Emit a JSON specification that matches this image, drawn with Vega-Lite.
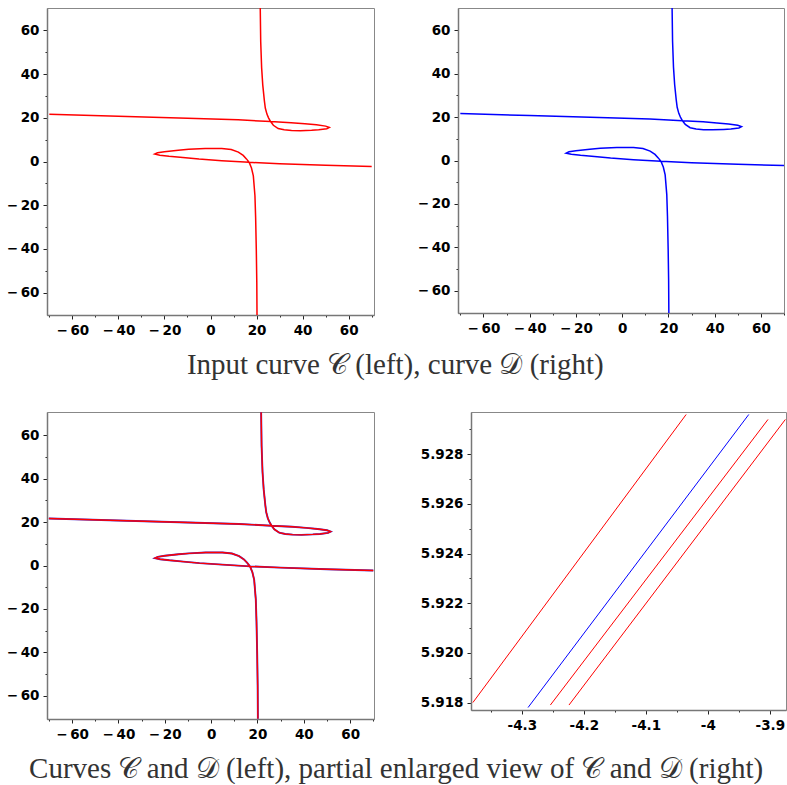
{
  "$schema": "https://vega.github.io/schema/vega-lite/v6.json",
  "background": "white",
  "padding": {"top": 7, "left": 5, "right": 0, "bottom": 0},
  "spacing": 31,
  "config": {
    "view": {"stroke": "#888", "strokeWidth": 1},
    "axis": {"domainColor": "#777", "domainWidth": 1.5, "tickColor": "#222", "labelFont": "DejaVu Sans", "labelFontWeight": "bold", "labelFontSize": 13.5, "labelColor": "#000", "grid": false, "labelPadding": 4, "title": null, "labelFlush": false, "labelOverlap": false},
    "title": {"font": "Liberation Serif", "fontSize": 29, "fontWeight": "normal", "color": "#333"}
  },
  "datasets": {
    "curveC": [
      {"branch": "upper", "i": 1, "x": -70, "y": 21.6},
      {"branch": "upper", "i": 2, "x": -40, "y": 20.7},
      {"branch": "upper", "i": 3, "x": -10, "y": 19.8},
      {"branch": "upper", "i": 4, "x": 12, "y": 19.1},
      {"branch": "upper", "i": 5, "x": 26.1, "y": 18.3},
      {"branch": "upper", "i": 6, "x": 35, "y": 17.8},
      {"branch": "upper", "i": 7, "x": 41, "y": 17.3},
      {"branch": "upper", "i": 8, "x": 46, "y": 16.8},
      {"branch": "upper", "i": 9, "x": 50, "y": 16.2},
      {"branch": "upper", "i": 10, "x": 51.6, "y": 15.6},
      {"branch": "upper", "i": 11, "x": 50.5, "y": 15.0},
      {"branch": "upper", "i": 12, "x": 47, "y": 14.5},
      {"branch": "upper", "i": 13, "x": 43.9, "y": 14.3},
      {"branch": "upper", "i": 14, "x": 39, "y": 14.1},
      {"branch": "upper", "i": 15, "x": 35.2, "y": 14.2},
      {"branch": "upper", "i": 16, "x": 32, "y": 14.5},
      {"branch": "upper", "i": 17, "x": 29.4, "y": 15.1},
      {"branch": "upper", "i": 18, "x": 27.3, "y": 16.6},
      {"branch": "upper", "i": 19, "x": 26.1, "y": 18.3},
      {"branch": "upper", "i": 20, "x": 25.2, "y": 20.0},
      {"branch": "upper", "i": 21, "x": 24.5, "y": 21.7},
      {"branch": "upper", "i": 22, "x": 23.8, "y": 24.5},
      {"branch": "upper", "i": 23, "x": 23.4, "y": 27.8},
      {"branch": "upper", "i": 24, "x": 22.7, "y": 35},
      {"branch": "upper", "i": 25, "x": 22.2, "y": 43},
      {"branch": "upper", "i": 26, "x": 21.8, "y": 55},
      {"branch": "upper", "i": 27, "x": 21.6, "y": 70.5},
      {"branch": "lower", "i": 1, "x": 70, "y": -2.3},
      {"branch": "lower", "i": 2, "x": 50, "y": -1.7},
      {"branch": "lower", "i": 3, "x": 30, "y": -1.0},
      {"branch": "lower", "i": 4, "x": 16.8, "y": -0.4},
      {"branch": "lower", "i": 5, "x": 4.9, "y": 0.4},
      {"branch": "lower", "i": 6, "x": -5, "y": 1.1},
      {"branch": "lower", "i": 7, "x": -12, "y": 1.8},
      {"branch": "lower", "i": 8, "x": -18, "y": 2.4},
      {"branch": "lower", "i": 9, "x": -22, "y": 2.9},
      {"branch": "lower", "i": 10, "x": -24.2, "y": 3.4},
      {"branch": "lower", "i": 11, "x": -23, "y": 4.0},
      {"branch": "lower", "i": 12, "x": -20, "y": 4.5},
      {"branch": "lower", "i": 13, "x": -14, "y": 5.2},
      {"branch": "lower", "i": 14, "x": -9.5, "y": 5.6},
      {"branch": "lower", "i": 15, "x": -2.3, "y": 6.0},
      {"branch": "lower", "i": 16, "x": 4.9, "y": 6.0},
      {"branch": "lower", "i": 17, "x": 9, "y": 5.5},
      {"branch": "lower", "i": 18, "x": 12.1, "y": 4.3},
      {"branch": "lower", "i": 19, "x": 14.2, "y": 2.8},
      {"branch": "lower", "i": 20, "x": 15.6, "y": 1.2},
      {"branch": "lower", "i": 21, "x": 16.8, "y": -0.4},
      {"branch": "lower", "i": 22, "x": 17.8, "y": -3},
      {"branch": "lower", "i": 23, "x": 18.6, "y": -6.6},
      {"branch": "lower", "i": 24, "x": 19.3, "y": -15.7},
      {"branch": "lower", "i": 25, "x": 19.6, "y": -25.7},
      {"branch": "lower", "i": 26, "x": 19.9, "y": -41},
      {"branch": "lower", "i": 27, "x": 20.1, "y": -55},
      {"branch": "lower", "i": 28, "x": 20.2, "y": -70.5}
    ],
    "curveD": [
      {"branch": "upper", "i": 1, "x": -70, "y": 21.6},
      {"branch": "upper", "i": 2, "x": -40, "y": 20.7},
      {"branch": "upper", "i": 3, "x": -10, "y": 19.8},
      {"branch": "upper", "i": 4, "x": 12, "y": 19.1},
      {"branch": "upper", "i": 5, "x": 26.1, "y": 18.3},
      {"branch": "upper", "i": 6, "x": 35, "y": 17.8},
      {"branch": "upper", "i": 7, "x": 41, "y": 17.3},
      {"branch": "upper", "i": 8, "x": 46, "y": 16.8},
      {"branch": "upper", "i": 9, "x": 50, "y": 16.2},
      {"branch": "upper", "i": 10, "x": 51.6, "y": 15.6},
      {"branch": "upper", "i": 11, "x": 50.5, "y": 15.0},
      {"branch": "upper", "i": 12, "x": 47, "y": 14.5},
      {"branch": "upper", "i": 13, "x": 43.9, "y": 14.3},
      {"branch": "upper", "i": 14, "x": 39, "y": 14.1},
      {"branch": "upper", "i": 15, "x": 35.2, "y": 14.2},
      {"branch": "upper", "i": 16, "x": 32, "y": 14.5},
      {"branch": "upper", "i": 17, "x": 29.4, "y": 15.1},
      {"branch": "upper", "i": 18, "x": 27.3, "y": 16.6},
      {"branch": "upper", "i": 19, "x": 26.1, "y": 18.3},
      {"branch": "upper", "i": 20, "x": 25.2, "y": 20.0},
      {"branch": "upper", "i": 21, "x": 24.5, "y": 21.7},
      {"branch": "upper", "i": 22, "x": 23.8, "y": 24.5},
      {"branch": "upper", "i": 23, "x": 23.4, "y": 27.8},
      {"branch": "upper", "i": 24, "x": 22.7, "y": 35},
      {"branch": "upper", "i": 25, "x": 22.2, "y": 43},
      {"branch": "upper", "i": 26, "x": 21.8, "y": 55},
      {"branch": "upper", "i": 27, "x": 21.6, "y": 70.5},
      {"branch": "lower", "i": 1, "x": 70, "y": -2.3},
      {"branch": "lower", "i": 2, "x": 50, "y": -1.7},
      {"branch": "lower", "i": 3, "x": 30, "y": -1.0},
      {"branch": "lower", "i": 4, "x": 16.8, "y": -0.4},
      {"branch": "lower", "i": 5, "x": 4.9, "y": 0.4},
      {"branch": "lower", "i": 6, "x": -5, "y": 1.1},
      {"branch": "lower", "i": 7, "x": -12, "y": 1.8},
      {"branch": "lower", "i": 8, "x": -18, "y": 2.4},
      {"branch": "lower", "i": 9, "x": -22, "y": 2.9},
      {"branch": "lower", "i": 10, "x": -24.2, "y": 3.4},
      {"branch": "lower", "i": 11, "x": -23, "y": 4.0},
      {"branch": "lower", "i": 12, "x": -20, "y": 4.5},
      {"branch": "lower", "i": 13, "x": -14, "y": 5.2},
      {"branch": "lower", "i": 14, "x": -9.5, "y": 5.6},
      {"branch": "lower", "i": 15, "x": -2.3, "y": 6.0},
      {"branch": "lower", "i": 16, "x": 4.9, "y": 6.0},
      {"branch": "lower", "i": 17, "x": 9, "y": 5.5},
      {"branch": "lower", "i": 18, "x": 12.1, "y": 4.3},
      {"branch": "lower", "i": 19, "x": 14.2, "y": 2.8},
      {"branch": "lower", "i": 20, "x": 15.6, "y": 1.2},
      {"branch": "lower", "i": 21, "x": 16.8, "y": -0.4},
      {"branch": "lower", "i": 22, "x": 17.8, "y": -3},
      {"branch": "lower", "i": 23, "x": 18.6, "y": -6.6},
      {"branch": "lower", "i": 24, "x": 19.3, "y": -15.7},
      {"branch": "lower", "i": 25, "x": 19.6, "y": -25.7},
      {"branch": "lower", "i": 26, "x": 19.9, "y": -41},
      {"branch": "lower", "i": 27, "x": 20.1, "y": -55},
      {"branch": "lower", "i": 28, "x": 20.2, "y": -70.5}
    ],
    "zoomed": [
      {"curve": "C", "line": "c1", "x": -4.379, "y": 5.918},
      {"curve": "C", "line": "c1", "x": -4.035, "y": 5.9296},
      {"curve": "D", "line": "d1", "x": -4.290, "y": 5.9178},
      {"curve": "D", "line": "d1", "x": -3.934, "y": 5.9296},
      {"curve": "C", "line": "c2", "x": -4.254, "y": 5.9179},
      {"curve": "C", "line": "c2", "x": -3.903, "y": 5.9294},
      {"curve": "C", "line": "c3", "x": -4.224, "y": 5.9179},
      {"curve": "C", "line": "c3", "x": -3.875, "y": 5.9294}
    ]
  },
  "vconcat": [
    {
      "spacing": 41,
      "title": {"text": "Input curve 𝒞 (left), curve 𝒟 (right)", "orient": "bottom", "anchor": "middle", "offset": 14},
      "hconcat": [
        {
          "width": 327, "height": 307,
          "data": {"name": "curveC"},
          "mark": {"type": "line", "color": "#ff0000", "strokeWidth": 1.5, "clip": true},
          "encoding": {
            "x": {"field": "x", "type": "quantitative", "scale": {"domain": [-71, 71], "nice": false, "zero": false},
              "axis": {"values": [-70, -60, -50, -40, -30, -20, -10, 0, 10, 20, 30, 40, 50, 60, 70], "labelExpr": "datum.value % 20 != 0 ? '' : (datum.value < 0 ? '−\u2009' + abs(datum.value) : '' + datum.value)", "tickSize": {"condition": {"test": "datum.value % 20 != 0", "value": 2}, "value": 4}}},
            "y": {"field": "y", "type": "quantitative", "scale": {"domain": [-70.3, 70.3], "nice": false, "zero": false},
              "axis": {"values": [-60, -50, -40, -30, -20, -10, 0, 10, 20, 30, 40, 50, 60], "labelExpr": "datum.value % 20 != 0 ? '' : (datum.value < 0 ? '−\u2009' + abs(datum.value) : '' + datum.value)", "tickSize": {"condition": {"test": "datum.value % 20 != 0", "value": 2}, "value": 4}}},
            "detail": {"field": "branch"},
            "order": {"field": "i"}
          }
        },
        {
          "width": 326, "height": 305,
          "data": {"name": "curveD"},
          "mark": {"type": "line", "color": "#0000ff", "strokeWidth": 1.5, "clip": true},
          "encoding": {
            "x": {"field": "x", "type": "quantitative", "scale": {"domain": [-71, 70], "nice": false, "zero": false},
              "axis": {"values": [-70, -60, -50, -40, -30, -20, -10, 0, 10, 20, 30, 40, 50, 60, 70], "labelExpr": "datum.value % 20 != 0 ? '' : (datum.value < 0 ? '−\u2009' + abs(datum.value) : '' + datum.value)", "tickSize": {"condition": {"test": "datum.value % 20 != 0", "value": 2}, "value": 4}}},
            "y": {"field": "y", "type": "quantitative", "scale": {"domain": [-70.2, 70.2], "nice": false, "zero": false},
              "axis": {"values": [-60, -50, -40, -30, -20, -10, 0, 10, 20, 30, 40, 50, 60], "labelExpr": "datum.value % 20 != 0 ? '' : (datum.value < 0 ? '−\u2009' + abs(datum.value) : '' + datum.value)", "tickSize": {"condition": {"test": "datum.value % 20 != 0", "value": 2}, "value": 4}}},
            "detail": {"field": "branch"},
            "order": {"field": "i"}
          }
        }
      ]
    },
    {
      "spacing": 44,
      "title": {"text": "Curves 𝒞 and 𝒟 (left), partial enlarged view of 𝒞 and 𝒟 (right)", "orient": "bottom", "anchor": "middle", "offset": 14},
      "hconcat": [
        {
          "width": 327, "height": 307,
          "encoding": {
            "x": {"field": "x", "type": "quantitative", "scale": {"domain": [-70.8, 70.3], "nice": false, "zero": false},
              "axis": {"values": [-70, -60, -50, -40, -30, -20, -10, 0, 10, 20, 30, 40, 50, 60, 70], "labelExpr": "datum.value % 20 != 0 ? '' : (datum.value < 0 ? '−\u2009' + abs(datum.value) : '' + datum.value)", "tickSize": {"condition": {"test": "datum.value % 20 != 0", "value": 2}, "value": 4}}},
            "y": {"field": "y", "type": "quantitative", "scale": {"domain": [-70.6, 70.6], "nice": false, "zero": false},
              "axis": {"values": [-60, -50, -40, -30, -20, -10, 0, 10, 20, 30, 40, 50, 60], "labelExpr": "datum.value % 20 != 0 ? '' : (datum.value < 0 ? '−\u2009' + abs(datum.value) : '' + datum.value)", "tickSize": {"condition": {"test": "datum.value % 20 != 0", "value": 2}, "value": 4}}},
            "detail": {"field": "branch"},
            "order": {"field": "i"}
          },
          "layer": [
            {"data": {"name": "curveD"}, "mark": {"type": "line", "color": "#3a2ad0", "strokeWidth": 1.9, "clip": true}},
            {"data": {"name": "curveC"}, "mark": {"type": "line", "color": "#ff0000", "strokeWidth": 1.4, "clip": true}}
          ]
        },
        {
          "width": 315, "height": 298,
          "data": {"name": "zoomed"},
          "mark": {"type": "line", "strokeWidth": 1, "clip": true},
          "encoding": {
            "x": {"field": "x", "type": "quantitative", "scale": {"domain": [-4.382, -3.874], "nice": false, "zero": false},
              "axis": {"values": [-4.35, -4.3, -4.25, -4.2, -4.15, -4.1, -4.05, -4.0, -3.95, -3.9], "labelExpr": "abs(round(datum.value*100)) % 10 != 0 ? '' : toString(round(datum.value*10)/10)", "tickSize": {"condition": {"test": "abs(round(datum.value*100)) % 10 != 0", "value": 2}, "value": 4}}},
            "y": {"field": "y", "type": "quantitative", "scale": {"domain": [5.9177, 5.9297], "nice": false, "zero": false},
              "axis": {"values": [5.918, 5.919, 5.92, 5.921, 5.922, 5.923, 5.924, 5.925, 5.926, 5.927, 5.928, 5.929], "labelExpr": "round(datum.value*1000) % 2 != 0 ? '' : format(datum.value, '.3f')", "tickSize": {"condition": {"test": "round(datum.value*1000) % 2 != 0", "value": 2}, "value": 4}}},
            "color": {"field": "curve", "type": "nominal", "scale": {"domain": ["C", "D"], "range": ["#ff0000", "#0000ff"]}, "legend": null},
            "detail": {"field": "line"}
          }
        }
      ]
    }
  ]
}
